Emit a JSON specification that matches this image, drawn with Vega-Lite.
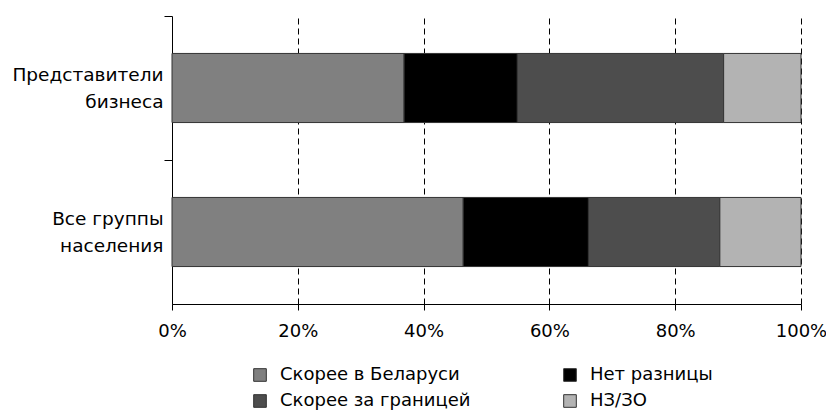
{
  "$schema": "https://vega.github.io/schema/vega-lite/v6.json",
  "width": 629,
  "height": 288,
  "autosize": "none",
  "padding": {"left": 172, "top": 16, "right": 25, "bottom": 108},
  "background": "white",
  "config": {
    "font": "DejaVu Sans",
    "view": {"stroke": null}
  },
  "data": {
    "values": [
      {"group": "Представители бизнеса", "answer": "Скорее в Беларуси", "k": 1, "v": 36.9},
      {"group": "Представители бизнеса", "answer": "Нет разницы", "k": 2, "v": 18.0},
      {"group": "Представители бизнеса", "answer": "Скорее за границей", "k": 3, "v": 32.8},
      {"group": "Представители бизнеса", "answer": "НЗ/ЗО", "k": 4, "v": 12.3},
      {"group": "Все группы населения", "answer": "Скорее в Беларуси", "k": 1, "v": 46.3},
      {"group": "Все группы населения", "answer": "Нет разницы", "k": 2, "v": 19.9},
      {"group": "Все группы населения", "answer": "Скорее за границей", "k": 3, "v": 20.9},
      {"group": "Все группы населения", "answer": "НЗ/ЗО", "k": 4, "v": 12.9}
    ]
  },
  "mark": {"type": "bar", "stroke": "#333333", "strokeWidth": 1, "height": {"band": 0.48}},
  "encoding": {
    "y": {
      "field": "group",
      "type": "nominal",
      "sort": ["Представители бизнеса", "Все группы населения"],
      "scale": {"paddingInner": 0, "paddingOuter": 0},
      "axis": {
        "title": null,
        "bandPosition": 0,
        "domainColor": "black",
        "tickColor": "black",
        "tickSize": 8,
        "labelPadding": 1,
        "labelFont": "DejaVu Sans",
        "labelFontSize": 18.5,
        "labelColor": "black",
        "labelLineHeight": 27,
        "labelOffset": -13,
        "labelLimit": 300,
        "labelAlign": "right",
        "labelExpr": "datum.value == 'Представители бизнеса' ? ['Представители', 'бизнеса'] : ['Все группы', 'населения']"
      }
    },
    "x": {
      "field": "v",
      "type": "quantitative",
      "stack": "normalize",
      "scale": {"domain": [0, 1], "nice": false},
      "axis": {
        "title": null,
        "values": [0, 0.2, 0.4, 0.6, 0.8, 1],
        "format": ".0%",
        "grid": true,
        "gridColor": "black",
        "gridDash": [6, 4],
        "gridOpacity": 1,
        "gridWidth": 1,
        "domainColor": "black",
        "tickColor": "black",
        "tickSize": 6,
        "labelPadding": 12,
        "labelFont": "DejaVu Sans",
        "labelFontSize": 18,
        "labelColor": "black",
        "labelFlush": false
      }
    },
    "color": {
      "field": "answer",
      "type": "nominal",
      "sort": ["Скорее в Беларуси", "Нет разницы", "Скорее за границей", "НЗ/ЗО"],
      "scale": {
        "domain": ["Скорее в Беларуси", "Нет разницы", "Скорее за границей", "НЗ/ЗО"],
        "range": ["#808080", "#000000", "#4d4d4d", "#b3b3b3"]
      },
      "legend": {
        "title": null,
        "orient": "none",
        "legendX": 79,
        "legendY": 350,
        "columns": 2,
        "direction": "horizontal",
        "symbolType": "square",
        "symbolSize": 160,
        "symbolStrokeColor": "#333333",
        "symbolStrokeWidth": 1,
        "labelFont": "DejaVu Sans",
        "labelFontSize": 18,
        "labelColor": "black",
        "labelOffset": 11,
        "columnPadding": 90,
        "rowPadding": 8,
        "labelLimit": 300
      }
    },
    "order": {"field": "k", "type": "quantitative"}
  }
}
